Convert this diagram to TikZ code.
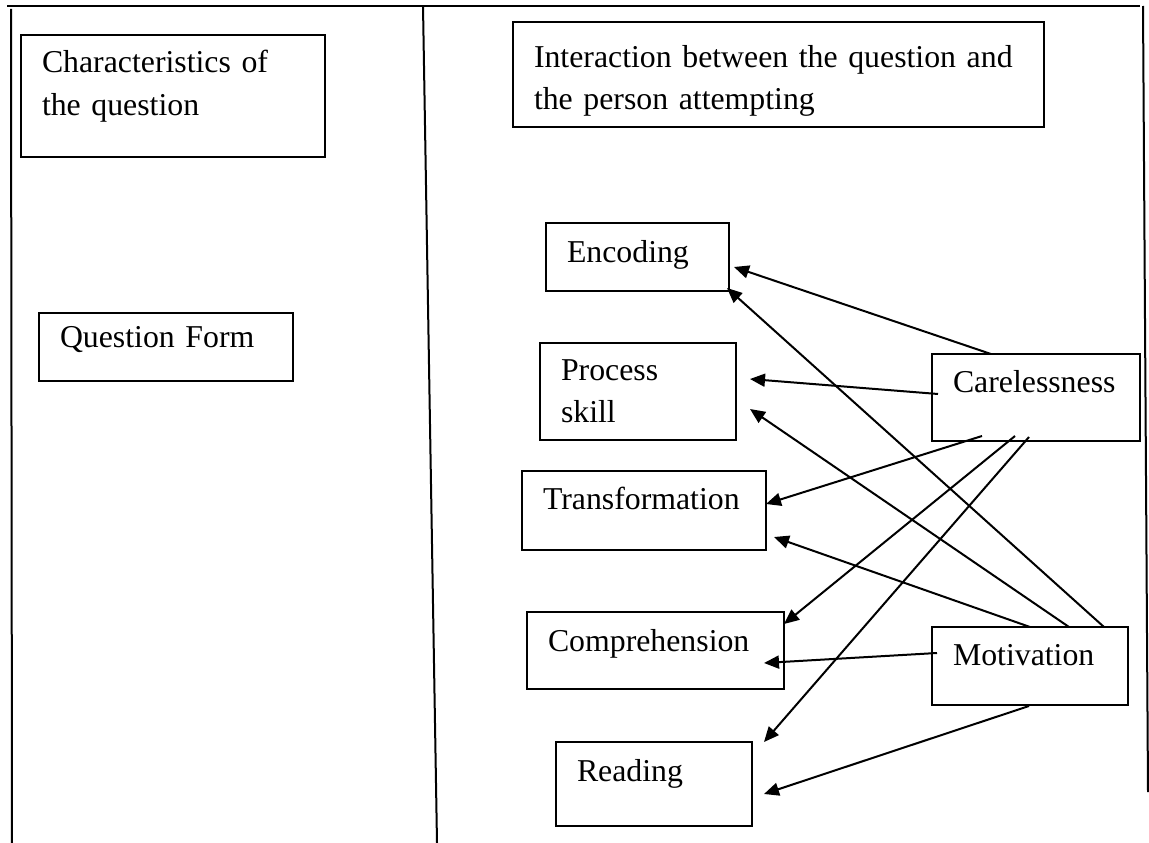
\documentclass[tikz,border=0pt]{standalone}
\usepackage{fontspec}
\setmainfont{Liberation Serif}
\usetikzlibrary{arrows.meta, calc}
\newcommand{\boxfont}{\fontsize{31.8}{42.5}\selectfont}
\tikzset{
  qbox/.style={rectangle, draw=black, line width=2pt, anchor=north west,
    inner xsep=21pt, inner ysep=0pt, outer sep=0pt, align=left, font=\boxfont},
  arrow/.style={-{Triangle[length=15pt, width=13pt]}, line width=2pt, color=black},
  frame/.style={line width=2pt, color=black}
}

\begin{document}
\begin{tikzpicture}[x=1pt, y=-1pt]
  \useasboundingbox (0,0) rectangle (1149,843);

  % Frame
  \draw[frame] (7,6) -- (1140,6);
  \draw[frame] (11,9) -- (12,843);
  \draw[frame] (423,6) -- (437,843);
  \draw[frame] (1143,6) -- (1148,792);

  % Headings
  \node[qbox, text width=262pt, text height=38pt, text depth=84pt] (charq) at (21,35) {Characteristics of\\the question};
  \node[qbox, text width=489pt, text height=45pt, text depth=60pt] (inter) at (513,22) {Interaction between the question and\\the person attempting};

  % Question side
  \node[qbox, text width=212pt, text height=34pt, text depth=34pt] (qform) at (39,313) {Question Form};

  % Interaction side
  \node[qbox, text width=141pt, text height=39pt, text depth=29pt] (enc) at (546,223) {Encoding};
  \node[qbox, text width=154pt, text height=37pt, text depth=60pt] (proc) at (540,343) {Process\\skill};
  \node[qbox, text width=202pt, text height=38pt, text depth=41pt] (trans) at (522,471) {Transformation};
  \node[qbox, text width=215pt, text height=39pt, text depth=38pt] (comp) at (527,612) {Comprehension};
  \node[qbox, text width=154pt, text height=39pt, text depth=45pt] (read) at (556,742) {Reading};
  \node[qbox, text width=166pt, text height=38pt, text depth=49pt] (care) at (932,354) {Carelessness};
  \node[qbox, text width=154pt, text height=38pt, text depth=40pt] (motiv) at (932,627) {Motivation};

  % Arrows from Carelessness
  \draw[arrow] ($(care.north west)+(59,0)$) -- ($(enc.north west)+(188,44)$);
  \draw[arrow] ($(care.north west)+(6,40)$) -- ($(proc.north west)+(210,36)$);
  \draw[arrow] ($(care.north west)+(50,82)$) -- ($(trans.north west)+(244,33)$);
  \draw[arrow] ($(care.north west)+(83,82)$) -- ($(comp.north west)+(257,12)$);
  \draw[arrow] ($(care.north west)+(97,83)$) -- ($(read.north west)+(208,0)$);

  % Arrows from Motivation
  \draw[arrow] ($(motiv.north west)+(172,0)$) -- ($(enc.north west)+(181,65)$);
  \draw[arrow] ($(motiv.north west)+(137,0)$) -- ($(proc.north west)+(210,66)$);
  \draw[arrow] ($(motiv.north west)+(98,0)$) -- ($(trans.north west)+(252,66)$);
  \draw[arrow] ($(motiv.north west)+(5,26)$) -- ($(comp.north west)+(237,51)$);
  \draw[arrow] ($(motiv.north west)+(97,79)$) -- ($(read.north west)+(208,52)$);
\end{tikzpicture}
\end{document}
